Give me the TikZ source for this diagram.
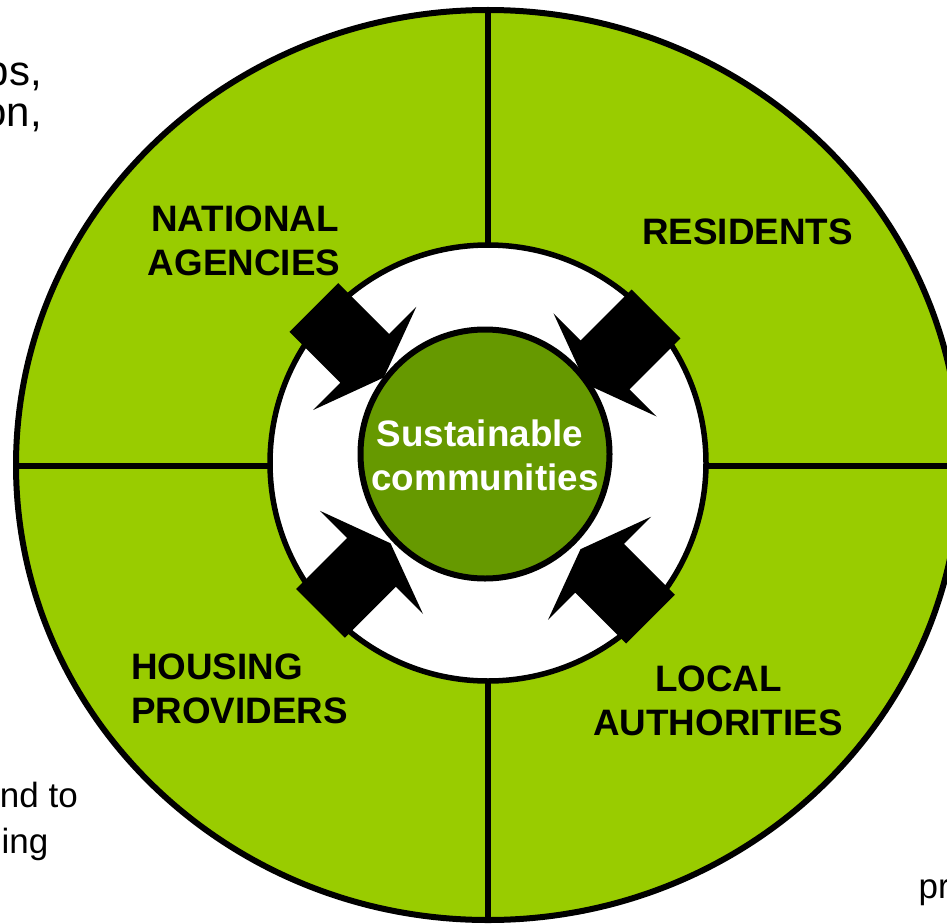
\documentclass[tikz,border=0pt]{standalone}
\usepackage{fontspec}
\setmainfont{Liberation Sans}
\definecolor{lightgreen}{HTML}{99CC00}
\definecolor{darkgreen}{HTML}{669900}
\begin{document}
\begin{tikzpicture}[x=1pt,y=-1pt,
  outline/.style={line width=6pt, draw=black},
  lab/.style={font=\bfseries\fontsize{36.8}{44}\selectfont, inner sep=0pt},
  fragbig/.style={font=\fontsize{42}{42}\selectfont, inner sep=0pt},
  fragsmall/.style={font=\fontsize{35}{46}\selectfont, inner sep=0pt},
  blockarrow/.pic={\fill[black] (0,34.5) -- (72,34.5) -- (72,73) -- (99,0) -- (72,-73) -- (72,-34.5) -- (0,-34.5) -- cycle;}
]
\useasboundingbox (0,0) rectangle (947,923);
\clip (0,0) rectangle (947,923);
\fill[white] (0,0) rectangle (947,923);
% background text fragments
\node[fragbig, anchor=base east] (f1) at (42,86) {ps,};
\node[fragbig, anchor=base east] (f2) at (42,127) {on,};
\node[fragsmall, anchor=base east] (f3) at (78,807) {nd to};
\node[fragsmall, anchor=base east] (f4) at (48.5,853) {ing};
\node[fragsmall, anchor=base west] (f5) at (918.5,898) {pr};
% outer disc
\fill[lightgreen] (488,465) ellipse [x radius=472, y radius=455];
\draw[outline] (488,10) -- (488,920);
\draw[outline] (16,466) -- (962,466);
\draw[outline] (488,465) ellipse [x radius=472, y radius=455];
% white ring
\filldraw[fill=white, draw=black, line width=5.5pt] (488,463) circle [radius=218];
% arrows
\pic[rotate=-45] at (313.8,307.5) {blockarrow};
\pic[rotate=-135] at (656,314) {blockarrow};
\pic[rotate=45] at (320.5,613.3) {blockarrow};
\pic[rotate=135] at (650.5,619.2) {blockarrow};
% core
\node[circle, fill=darkgreen, draw=black, line width=6pt, minimum size=249pt, inner sep=0pt] (core) at (485,454) {};
\node[lab, text=white, anchor=base] (s1) at (480,446) {Sustainable};
\node[lab, text=white, anchor=base] (s2) at (485,490) {communities};
% labels
\node[lab, anchor=base] (n1) at (245,231) {NATIONAL};
\node[lab, anchor=base] (n2) at (244,275) {AGENCIES};
\node[lab, anchor=base] (r1) at (747.5,244) {RESIDENTS};
\node[lab, anchor=base west] (h1) at (131,679) {HOUSING};
\node[lab, anchor=base west] (h2) at (131,723) {PROVIDERS};
\node[lab, anchor=base] (l1) at (718.5,691) {LOCAL};
\node[lab, anchor=base] (l2) at (718,735) {AUTHORITIES};
\end{tikzpicture}
\end{document}
